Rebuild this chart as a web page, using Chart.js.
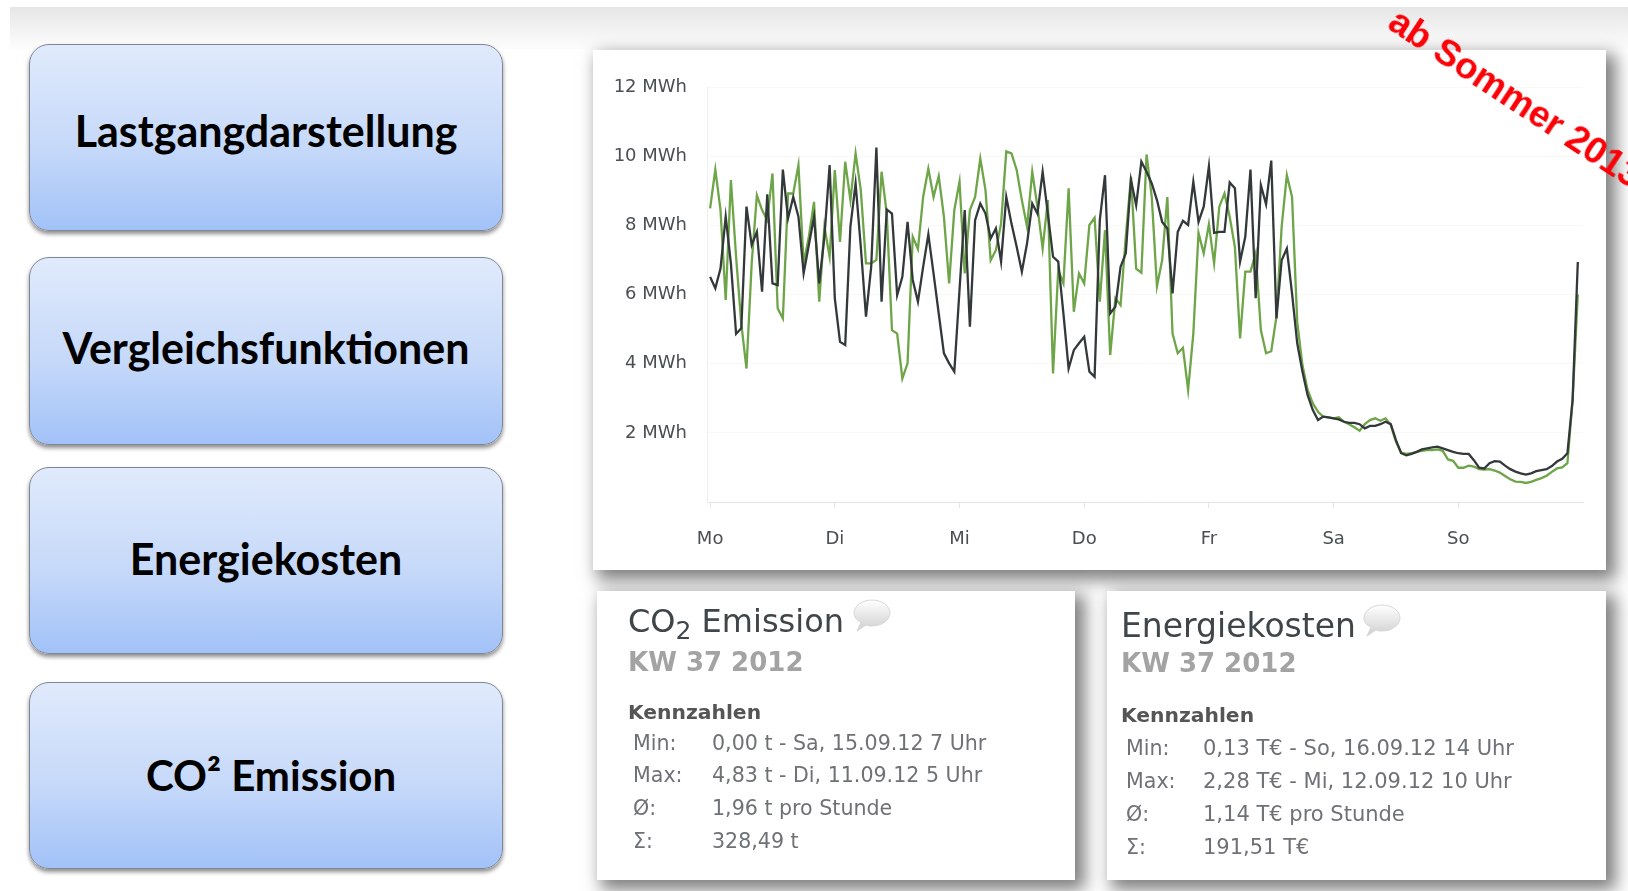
<!DOCTYPE html>
<html lang="de">
<head>
<meta charset="utf-8">
<title>Lastgang</title>
<script src="https://cdn.jsdelivr.net/npm/chart.js@4/dist/chart.umd.min.js"></script>
<style>
  html, body { margin: 0; padding: 0; background: #fff; }
  body { position: relative; width: 1628px; height: 891px; overflow: hidden; font-family: "DejaVu Sans", sans-serif; }
  .topband { position: absolute; left: 10px; top: 7px; width: 1618px; height: 42px; background: linear-gradient(#e6e6e6, #fdfdfd); }
  .btn { position: absolute; left: 29px; width: 474px; border-radius: 20px; border: 1px solid #7f8794; box-sizing: border-box;
    background: linear-gradient(#e0eafc 0%, #c6d9f9 55%, #a2c2f8 100%); box-shadow: 0 3px 4px rgba(0,0,0,.45);
    font: bold 43px Lato, sans-serif; color: #000; text-align: center; display: flex; align-items: center; justify-content: center; }
  .panel { position: absolute; background: #fff; box-shadow: 7px 7px 16px 3px rgba(0,0,0,.5); }
  #chartPanel { left: 593px; top: 50px; width: 1013px; height: 520px; }
  #chartPanel canvas { display: block; filter: blur(.5px); }
  .panel .abs { position: absolute; white-space: nowrap; }
  .title { font-size: 32px; color: #3f4548; font-family: "DejaVu Sans", sans-serif; }
  .title sub { font-size: 25px; line-height: 0; }
  .kw { font-size: 26px; font-weight: bold; color: #a3a3a3; }
  .kz { font-size: 20.3px; font-weight: bold; color: #555; }
  .row { font-size: 20.6px; color: #6e7276; }
  .ribbon { position: absolute; left: 1381px; top: 35px; font: bold 37px "Liberation Sans", sans-serif; color: #fb0007;
    white-space: nowrap; transform-origin: 0 100%; transform: translateY(-100%) rotate(33.4deg); }
</style>
</head>
<body>
<div class="topband"></div>

<div class="btn" style="top:44px;height:187px;padding-bottom:14px;box-sizing:border-box">Lastgangdarstellung</div>
<div class="btn" style="top:257px;height:188px;padding-bottom:8px;box-sizing:border-box">Vergleichsfunktionen</div>
<div class="btn" style="top:467px;height:187px;box-sizing:border-box;padding-bottom:4px">Energiekosten</div>
<div class="btn" style="top:682px;height:187px;box-sizing:border-box;padding-bottom:2px;padding-left:10px;font-size:42px">CO² Emission</div>

<div class="panel" id="chartPanel"><canvas id="lastgang" width="1013" height="520"></canvas></div>

<div class="panel" style="left:597px;top:591px;width:478px;height:289px">
  <div class="abs title" style="left:31px;top:11px">CO<sub>2</sub> Emission</div>
  <svg class="abs" style="left:255px;top:7px" width="40" height="36" viewBox="0 0 40 36">
    <defs><linearGradient id="bub1" x1="0" y1="0" x2="0" y2="1"><stop offset="0" stop-color="#fff"/><stop offset="1" stop-color="#cfcfcf"/></linearGradient></defs>
    <path d="M20 2C30 2 38 8 38 15S30 28 20 28C18 28 16 28 14 27L5 33L9 24C4 22 2 19 2 15C2 8 10 2 20 2Z" fill="url(#bub1)" stroke="#d8d8d8"/>
  </svg>
  <div class="abs kw" style="left:31px;top:56px">KW 37 2012</div>
  <div class="abs kz" style="left:31px;top:109px">Kennzahlen</div>
  <div class="abs row" style="left:36px;top:140px">Min:</div><div class="abs row" style="left:115px;top:140px">0,00 t - Sa, 15.09.12 7 Uhr</div>
  <div class="abs row" style="left:36px;top:172px">Max:</div><div class="abs row" style="left:115px;top:172px">4,83 t - Di, 11.09.12 5 Uhr</div>
  <div class="abs row" style="left:36px;top:205px">Ø:</div><div class="abs row" style="left:115px;top:205px">1,96 t pro Stunde</div>
  <div class="abs row" style="left:36px;top:238px">Σ:</div><div class="abs row" style="left:115px;top:238px">328,49 t</div>
</div>

<div class="panel" style="left:1107px;top:591px;width:499px;height:289px">
  <div class="abs title" style="left:14px;top:15px;font-size:33px">Energiekosten</div>
  <svg class="abs" style="left:255px;top:12px" width="40" height="36" viewBox="0 0 40 36">
    <path d="M20 2C30 2 38 8 38 15S30 28 20 28C18 28 16 28 14 27L5 33L9 24C4 22 2 19 2 15C2 8 10 2 20 2Z" fill="url(#bub1)" stroke="#d8d8d8"/>
  </svg>
  <div class="abs kw" style="left:14px;top:57px">KW 37 2012</div>
  <div class="abs kz" style="left:14px;top:112px">Kennzahlen</div>
  <div class="abs row" style="left:19px;top:145px">Min:</div><div class="abs row" style="left:96px;top:145px;font-size:21px">0,13 T€ - So, 16.09.12 14 Uhr</div>
  <div class="abs row" style="left:19px;top:178px">Max:</div><div class="abs row" style="left:96px;top:178px;font-size:21px">2,28 T€ - Mi, 12.09.12 10 Uhr</div>
  <div class="abs row" style="left:19px;top:211px">Ø:</div><div class="abs row" style="left:96px;top:211px;font-size:21px">1,14 T€ pro Stunde</div>
  <div class="abs row" style="left:19px;top:244px">Σ:</div><div class="abs row" style="left:96px;top:244px;font-size:21px">191,51 T€</div>
</div>

<div class="ribbon">ab Sommer 2013</div>

<script>
// Tick labels
const dayLabels = ["Mo", "Di", "Mi", "Do", "Fr", "Sa", "So"];
const dayStartHours = [0, 24, 48, 72, 96, 120, 144];
const yTickValues = [0, 2, 4, 6, 8, 10, 12];

// Hourly values in MWh (one week, 168 hours)
const schwarzWerte = [
  6.51, 6.18, 6.75, 8.25, 6.90, 4.86, 5.02, 8.54, 7.43, 7.81, 6.08, 8.90, 6.32, 6.27, 9.61, 8.20, 8.82, 8.25, 6.61, 7.43, 8.25, 6.32, 7.67, 9.74,
  5.89, 4.63, 4.54, 7.96, 9.21, 7.38, 5.36, 6.80, 10.25, 5.79, 8.46, 8.34, 5.98, 6.51, 8.10, 6.42, 5.79, 6.80, 7.74, 6.61, 5.45, 4.30, 4.01, 3.77,
  6.13, 8.44, 5.07, 8.15, 8.63, 8.34, 7.62, 7.91, 6.95, 8.82, 8.05, 7.38, 6.66, 7.48, 8.63, 8.34, 9.55, 8.34, 7.09, 6.95, 5.45, 3.86, 4.39, 4.59,
  4.78, 3.77, 3.62, 8.15, 9.45, 5.45, 5.65, 6.80, 7.19, 9.31, 8.58, 9.84, 9.55, 9.21, 8.73, 8.10, 7.91, 6.03, 7.81, 8.13, 8.01, 9.26, 8.10, 8.54,
  9.71, 7.78, 7.81, 7.81, 9.24, 9.07, 6.95, 7.67, 9.61, 5.89, 9.16, 8.61, 9.87, 5.31, 6.99, 7.33, 6.03, 4.59, 3.77, 3.09, 2.66, 2.37, 2.47, 2.45,
  2.42, 2.39, 2.32, 2.29, 2.29, 2.25, 2.13, 2.20, 2.20, 2.25, 2.32, 2.25, 1.79, 1.41, 1.35, 1.39, 1.45, 1.52, 1.55, 1.58, 1.60, 1.55, 1.50, 1.45,
  1.41, 1.39, 1.39, 1.21, 0.99, 0.97, 1.12, 1.18, 1.17, 1.05, 0.95, 0.88, 0.83, 0.79, 0.83, 0.89, 0.92, 0.95, 1.04, 1.17, 1.25, 1.41, 2.95, 6.94
];
const gruenWerte = [
  8.49, 9.61, 8.44, 5.84, 9.31, 7.09, 5.16, 3.86, 6.90, 8.87, 8.44, 8.15, 9.50, 5.60, 5.31, 8.92, 8.92, 9.74, 6.90, 7.67, 8.68, 5.79, 7.96, 7.09,
  9.60, 7.52, 9.84, 8.73, 10.08, 9.02, 6.90, 6.90, 7.00, 9.55, 8.34, 4.97, 4.87, 3.57, 4.01, 7.67, 7.31, 8.82, 9.64, 8.82, 9.42, 8.25, 6.32, 8.44,
  9.26, 6.61, 8.44, 8.82, 9.93, 9.02, 6.99, 7.28, 8.05, 10.14, 10.08, 9.60, 8.73, 7.96, 9.55, 8.54, 7.33, 8.73, 3.72, 6.71, 6.32, 9.07, 5.50, 6.61,
  6.32, 8.01, 8.22, 5.79, 7.86, 4.25, 5.89, 5.69, 7.67, 9.40, 6.75, 6.63, 10.05, 8.82, 6.24, 6.99, 8.82, 4.87, 4.30, 4.46, 3.24, 4.87, 7.78, 7.19,
  8.03, 6.90, 8.54, 8.92, 8.25, 7.38, 4.73, 6.66, 6.66, 7.19, 4.97, 4.30, 4.36, 5.36, 7.96, 9.45, 8.82, 5.20, 3.96, 3.24, 2.85, 2.61, 2.47, 2.45,
  2.42, 2.45, 2.32, 2.25, 2.16, 2.06, 2.25, 2.37, 2.42, 2.35, 2.42, 2.23, 1.74, 1.43, 1.39, 1.41, 1.45, 1.48, 1.50, 1.50, 1.52, 1.48, 1.23, 1.19,
  0.99, 0.99, 1.05, 1.02, 0.95, 0.94, 0.95, 0.91, 0.85, 0.75, 0.66, 0.59, 0.58, 0.55, 0.58, 0.64, 0.69, 0.76, 0.87, 0.97, 1.00, 1.12, 2.95, 6.00
];

const toPoints = (werte) => werte.map((wert, stunde) => ({ x: stunde, y: wert }));

new Chart(document.getElementById("lastgang"), {
  type: "line",
  data: {
    datasets: [
      { data: toPoints(schwarzWerte), borderColor: "#33383a", borderWidth: 2.3 },
      { data: toPoints(gruenWerte), borderColor: "#6ea548", borderWidth: 2.3 }
    ]
  },
  options: {
    responsive: false,
    animation: false,
    layout: { padding: { top: 37, right: 23, left: 0, bottom: 0 } },
    elements: { point: { radius: 0 }, line: { tension: 0 } },
    plugins: { legend: { display: false }, tooltip: { enabled: false } },
    scales: {
      x: {
        type: "linear",
        min: -0.6,
        max: 168,
        afterBuildTicks: (axis) => { axis.ticks = dayStartHours.map((value) => ({ value })); },
        afterFit: (axis) => { axis.height = 68; },
        grid: { drawOnChartArea: false, color: "#e4e4e4", tickLength: 6 },
        border: { color: "#e4e4e4" },
        ticks: {
          autoSkip: false, maxRotation: 0, padding: 21, color: "#4a4f52",
          font: { family: "DejaVu Sans", size: 18 },
          callback: (value) => dayLabels[dayStartHours.indexOf(value)]
        }
      },
      y: {
        min: 0,
        max: 12,
        afterBuildTicks: (axis) => { axis.ticks = yTickValues.map((value) => ({ value })); },
        afterFit: (axis) => { axis.width = 114; },
        grid: { color: "#f8f8f5", drawTicks: false },
        border: { color: "#efefef" },
        ticks: {
          padding: 20, color: "#4a4f52",
          font: { family: "DejaVu Sans", size: 18 },
          callback: (value) => (value === 0 ? "" : value + " MWh")
        }
      }
    }
  }
});
</script>
</body>
</html>
